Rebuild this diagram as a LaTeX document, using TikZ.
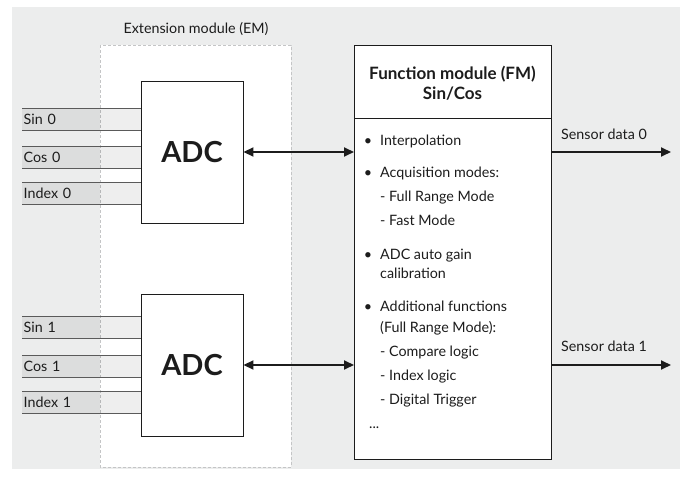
\documentclass[tikz,border=0pt]{standalone}
\usepackage{fontspec}
\setmainfont{Lato}
\usetikzlibrary{arrows.meta}

\definecolor{bggray}{HTML}{ECEDED}
\definecolor{dashgray}{HTML}{C4C5C6}
\definecolor{wire}{HTML}{5A5A5A}
\definecolor{ink}{HTML}{1C1C1C}

\tikzset{
  body/.style={font=\fontsize{14.3}{17}\selectfont},
  blockbox/.style={draw=ink, line width=0.9pt, fill=white},
  adcbox/.style={blockbox, minimum width=102pt, minimum height=142pt,
    font=\fontsize{29}{34}\selectfont\bfseries, inner sep=0pt},
  inwire/.style={fill=black, fill opacity=0.065, text opacity=1,
    text width=116pt, align=left, inner xsep=1.5pt, inner ysep=0pt,
    minimum height=21.5pt, anchor=west, body},
  wireline/.style={draw=wire, line width=0.8pt},
  emframe/.style={draw=dashgray, fill=white, line width=0.7pt,
    dash pattern=on 3pt off 2pt},
  biarrow/.style={draw=ink, line width=1.8pt,
    {Triangle[length=10pt,width=9pt]}-{Triangle[length=10pt,width=9pt]}},
  outarrow/.style={draw=ink, line width=1.8pt,
    -{Triangle[length=10pt,width=9pt]}},
  item/.style={anchor=base west, inner sep=0pt, body},
  dot/.style={anchor=base, inner sep=0pt, body},
}

\begin{document}
\begin{tikzpicture}[x=1pt, y=-1pt, text=ink]
\useasboundingbox (0,0) rectangle (680,478);

% backdrop
\fill[bggray] (12,7) rectangle (680,469);

% extension module frame
\draw[emframe] (100,45) rectangle (291,467);
\node[anchor=base, inner sep=0pt, body] (emlabel) at (196,34) {Extension module (EM)};

% analog inputs
\foreach \nm/\txt/\yc in {sin0/Sin 0/119, cos0/Cos 0/157.5, idx0/Index 0/193.5,
                          sin1/Sin 1/327.5, cos1/Cos 1/366.5, idx1/Index 1/402.5}{
  \node[inwire] (\nm) at (22,\yc) {\txt};
  \draw[wireline] (\nm.north west) -- (\nm.north east)
                  (\nm.south west) -- (\nm.south east);
}

% converters
\node[adcbox] (adc0) at (192,152) {ADC};
\node[adcbox] (adc1) at (192,365) {ADC};

% function module
\node[blockbox, anchor=north west, minimum width=197pt, minimum height=414pt,
      inner sep=0pt] (fm) at (354,45) {};
\draw[draw=ink, line width=0.9pt] (fm.west |- 0,118) -- (fm.east |- 0,118);
\node[anchor=base, inner sep=0pt, font=\fontsize{17}{20}\selectfont\bfseries]
  (fmt1) at (452.5,80) {Function module (FM)};
\node[anchor=base, inner sep=0pt, font=\fontsize{17}{20}\selectfont\bfseries]
  (fmt2) at (452.5,100) {Sin/Cos};

% feature list
\foreach \nm/\yb in {b1/146, b2/177.5, b3/259.5, b4/312}{
  \node[dot] (\nm) at (368,\yb) {•};
}
\foreach \nm/\txt/\yb in {
    l1/Interpolation/146,
    l2/Acquisition modes:/177.5,
    l3/- Full Range Mode/202,
    l4/- Fast Mode/226,
    l5/ADC auto gain/259.5,
    l6/calibration/279,
    l7/Additional functions/312,
    l8/(Full Range Mode):/332,
    l9/- Compare logic/356.5,
    l10/- Index logic/380.5,
    l11/- Digital Trigger/404.5}{
  \node[item] (\nm) at (380,\yb) {\txt};
}
\node[item] (more) at (369,428) {...};

% links
\draw[biarrow] (adc0.east) -- (adc0.east -| fm.west);
\draw[biarrow] (adc1.east) -- (adc1.east -| fm.west);

\coordinate (out0) at (671,152);
\coordinate (out1) at (671,365);
\draw[outarrow] (out0 -| fm.east) -- (out0);
\draw[outarrow] (out1 -| fm.east) -- (out1);
\node[item] (sd0) at (561,140) {Sensor data 0};
\node[item] (sd1) at (561,352) {Sensor data 1};
\end{tikzpicture}
\end{document}
